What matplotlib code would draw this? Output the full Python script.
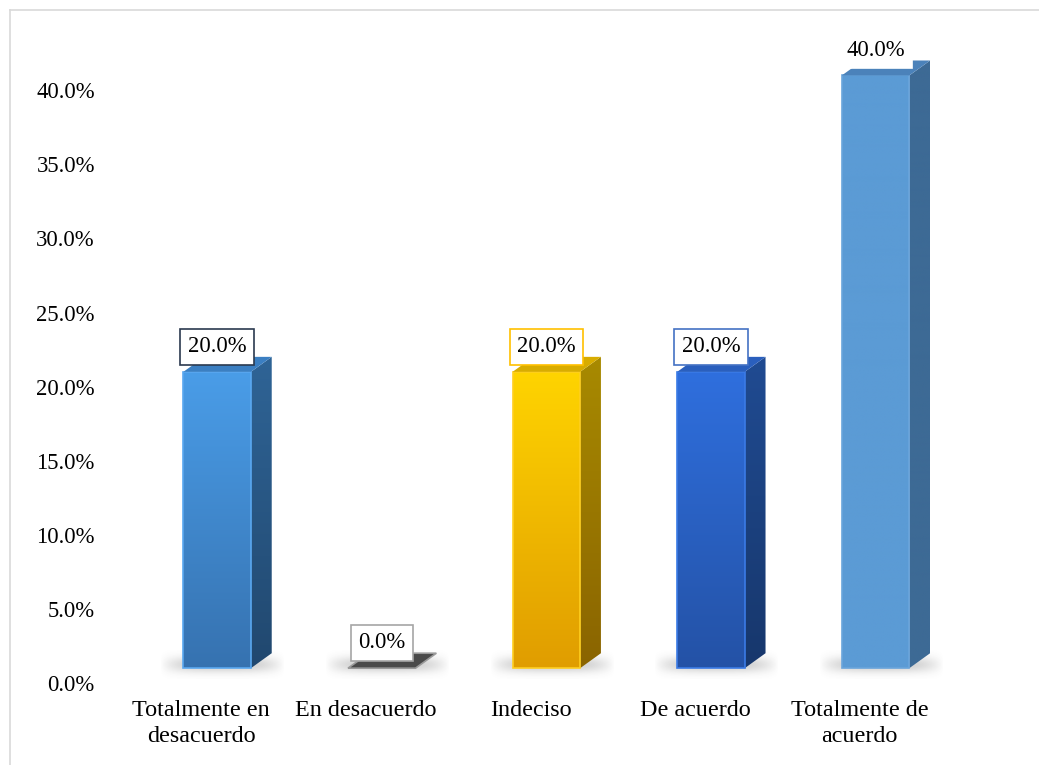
import numpy as np
import matplotlib
matplotlib.use("Agg")
import matplotlib.pyplot as plt
from matplotlib.patches import Polygon
from matplotlib.lines import Line2D
from matplotlib.colors import to_rgb

plt.rcParams["font.family"] = ["Liberation Serif", "DejaVu Serif"]

categories = ["Totalmente en\ndesacuerdo", "En desacuerdo", "Indeciso",
              "De acuerdo", "Totalmente de\nacuerdo"]
values = [20.0, 0.0, 20.0, 20.0, 40.0]
y_ticks = [0, 5, 10, 15, 20, 25, 30, 35, 40]

# front top, front bottom, side top, side bottom, top face, face edge, label edge
styles = [
    ("#4a9de8", "#3672b0", "#2f6496", "#21486f", "#3b7fc2", "#5aa8f0", "#2b3a4f"),
    ("#555555", "#555555", "#444444", "#444444", "#4a4a4a", "#9a9a9a", "#a6a6a6"),
    ("#ffd400", "#e09d00", "#a88a00", "#8a6400", "#d8ac00", "#ffcf20", "#ffc000"),
    ("#2f6fde", "#2452a6", "#204b92", "#17376c", "#2a5fbd", "#3b7be6", "#4472c4"),
    ("#5b9bd5", "#5b9bd5", "#3d6a95", "#3d6a95", "#4b82ba", "#6aa5dc", "white"),
]

# 3D box geometry in data units
OFF = -0.139     # front face left edge relative to category centre
W = 0.41         # front face width
DX = 0.1265      # depth offset to the right
DY = 1.01        # depth offset upwards
BASE = 1.0       # floor height of the front face


def gradient_face(ax, poly, c_top, c_bot, edge=None):
    xs = [p[0] for p in poly]
    ys = [p[1] for p in poly]
    t = np.linspace(0, 1, 256)[:, None]
    top, bot = np.array(to_rgb(c_top)), np.array(to_rgb(c_bot))
    img = (top * (1 - t) + bot * t)[:, None, :].repeat(2, axis=1)
    im = ax.imshow(img, extent=(min(xs), max(xs), min(ys), max(ys)),
                   aspect="auto", origin="upper", zorder=3, interpolation="bilinear")
    patch = Polygon(poly, closed=True, facecolor="none",
                    edgecolor=edge if edge else "none", lw=1.2, zorder=4)
    ax.add_patch(patch)
    im.set_clip_path(patch)


def shadow(ax, x0):
    # soft grey shade on the floor around the foot of each box
    nx, ny = 200, 60
    xs = np.linspace(-1, 1, nx)
    ys = np.linspace(-1, 1, ny)
    gx, gy = np.meshgrid(xs, ys)
    alpha = np.clip(1 - np.abs(gx) ** 3, 0, 1) * np.exp(-(gy * 1.8) ** 2) * 0.28
    img = np.zeros((ny, nx, 4))
    img[..., :3] = 0.3
    img[..., 3] = alpha
    ax.imshow(img, extent=(x0 - 0.14, x0 + W + DX + 0.08, BASE - 0.7, BASE + DY + 0.2),
              aspect="auto", origin="upper", zorder=2, interpolation="bilinear")


fig = plt.figure(figsize=(10.39, 7.65), dpi=100)
ax = fig.add_axes([124 / 1039, 1 - 683 / 765, 823 / 1039, 652 / 765])
ax.set_xlim(-0.5, 4.5)
ax.set_ylim(0, 44)

for i, (v, st) in enumerate(zip(values, styles)):
    ft, fb, stp, sb, tp, edge, ledge = st
    x0 = i + OFF
    x1 = x0 + W
    y0 = BASE
    y1 = BASE + v
    shadow(ax, x0)
    front = [(x0, y0), (x1, y0), (x1, y1), (x0, y1)]
    side = [(x1, y0), (x1 + DX, y0 + DY), (x1 + DX, y1 + DY), (x1, y1)]
    top = [(x0, y1), (x1, y1), (x1 + DX, y1 + DY), (x0 + DX, y1 + DY)]
    if v > 0:
        gradient_face(ax, front, ft, fb, edge)
        gradient_face(ax, side, stp, sb)
    ax.add_patch(Polygon(top, closed=True, facecolor=tp,
                         edgecolor=edge if v == 0 else "none", lw=1.2, zorder=4))

    ax.text(x0 + W / 2, v + 2.7, f"{v:.1f}%", ha="center", va="center",
            fontsize=16.3, zorder=6,
            bbox=dict(boxstyle="square,pad=0.33", fc="white", ec=ledge, lw=1.2))

ax.set_yticks(y_ticks)
ax.set_yticklabels([f"{t:.1f}%" for t in y_ticks], fontsize=16.3)
ax.set_xticks([i - 0.03 for i in range(len(categories))])
ax.set_xticklabels(categories, fontsize=17.4, linespacing=1.35)
ax.tick_params(axis="y", length=0, pad=21)
ax.tick_params(axis="x", length=0, pad=12)
for s in ax.spines.values():
    s.set_visible(False)
ax.patch.set_alpha(0)

# light outer frame
fig.add_artist(Line2D([10 / 1039, 1.0], [1 - 10 / 765, 1 - 10 / 765],
                      transform=fig.transFigure, color="#d9d9d9", lw=1.2))
fig.add_artist(Line2D([10 / 1039, 10 / 1039], [0, 1 - 10 / 765],
                      transform=fig.transFigure, color="#d9d9d9", lw=1.2))

fig.savefig("out.png", dpi=100)
